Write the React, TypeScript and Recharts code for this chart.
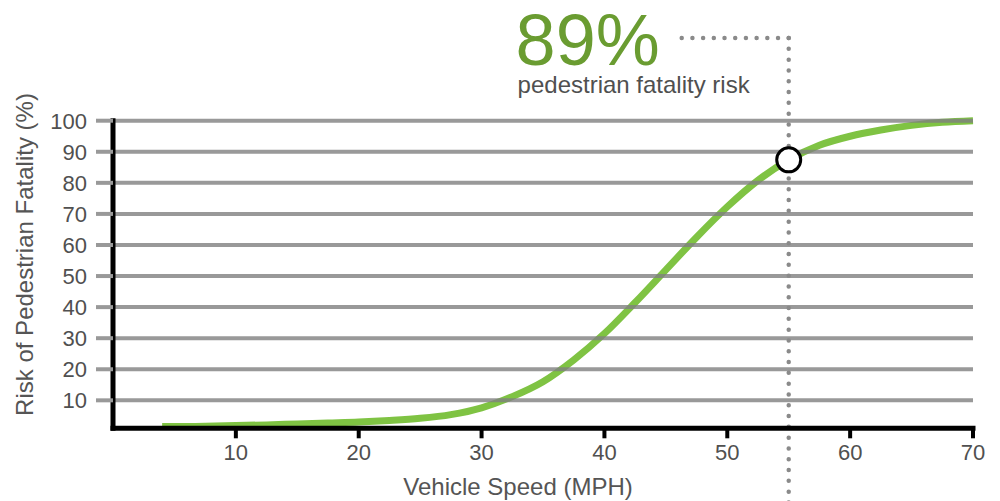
import React from 'react';
import { LineChart, Line, XAxis, YAxis, ReferenceLine, ReferenceDot } from 'recharts';

const speeds = [4, 5, 7.5, 10, 12.5, 15, 17.5, 20, 22.5, 25, 27.5, 30, 32.5, 35, 37.5, 40, 42.5, 45, 47.5, 50, 52.5, 55, 57.5, 60, 62.5, 65, 67.5, 70];
const risks = [1.6, 1.6, 1.7, 1.9, 2.1, 2.4, 2.7, 3.0, 3.5, 4.2, 5.4, 7.6, 11.2, 16.0, 23.0, 31.5, 41.5, 52, 62.5, 72.3, 80.8, 87.4, 92.1, 95.0, 97.0, 98.5, 99.5, 100];
const xTicks = [10, 20, 30, 40, 50, 60, 70];
const yTicks = [10, 20, 30, 40, 50, 60, 70, 80, 90, 100];
const highlightSpeed = 55;
const highlightText = '89%';
const highlightCaption = 'pedestrian fatality risk';
const xTitle = 'Vehicle Speed (MPH)';
const yTitle = 'Risk of Pedestrian Fatality (%)';

const data = speeds.map((s, i) => ({ speed: s, risk: risks[i] }));
const highlightRisk = risks[speeds.indexOf(highlightSpeed)];

const FONT = '"Liberation Sans", Arial, Helvetica, sans-serif';
const GREEN = '#7fc343';
const DOT_GREY = '#8a8a8a';

export default function App() {
  return (
    <div style={{ position: 'absolute', left: 0, top: 0, width: 1000, height: 501, background: '#fff', fontFamily: FONT }}>
      <LineChart width={1000} height={501} data={data} margin={{ top: 120.7, right: 27, left: 0, bottom: 12.7 }}>
        <XAxis
          dataKey="speed"
          type="number"
          domain={[0, 70]}
          ticks={xTicks}
          height={60}
          axisLine={{ stroke: '#000', strokeWidth: 5, strokeLinecap: 'square' }}
          tickLine={{ stroke: '#000', strokeWidth: 4 }}
          tickSize={10}
          tickMargin={6}
          tick={{ fill: '#505050', fontSize: 22, fontFamily: FONT }}
          label={(props: any) => {
            const vb = props.viewBox || {};
            return (
              <text x={vb.x + vb.width / 2 - 25} y={495} textAnchor="middle" fill="#555" fontSize={24} fontFamily={FONT}>
                {xTitle}
              </text>
            );
          }}
        />
        <YAxis
          type="number"
          domain={[1, 100]}
          ticks={yTicks}
          width={113}
          axisLine={{ stroke: '#000', strokeWidth: 5, strokeLinecap: 'square' }}
          tickLine={{ stroke: '#999', strokeWidth: 4 }}
          tickSize={17}
          tickMargin={9}
          tick={{ fill: '#505050', fontSize: 22, fontFamily: FONT }}
          label={(props: any) => {
            const vb = props.viewBox || {};
            const cx = 33;
            const cy = vb.y + vb.height / 2 - 20;
            return (
              <text x={cx} y={cy} transform={`rotate(-90 ${cx} ${cy})`} textAnchor="middle" fill="#555" fontSize={24} fontFamily={FONT}>
                {yTitle}
              </text>
            );
          }}
        />
        <Line type="monotone" dataKey="risk" stroke={GREEN} strokeWidth={7} dot={false} activeDot={false} isAnimationActive={false} />
        {yTicks.map((t) => (
          <ReferenceLine key={t} y={t} stroke="rgba(128,128,128,0.8)" strokeWidth={4} />
        ))}
        <ReferenceLine
          segment={[{ x: highlightSpeed, y: 126.6 }, { x: highlightSpeed, y: -25 }]}
          ifOverflow="visible"
          stroke={DOT_GREY}
          strokeWidth={4.5}
          strokeDasharray="0 10.8"
          strokeLinecap="round"
        />
        <ReferenceLine
          segment={[{ x: highlightSpeed, y: 126.6 }, { x: 46.2, y: 126.6 }]}
          ifOverflow="visible"
          stroke={DOT_GREY}
          strokeWidth={4.5}
          strokeDasharray="0 10.7"
          strokeLinecap="round"
          label={(props: any) => {
            const vb = props.viewBox || {};
            return (
              <g>
                <text x={vb.x - 165} y={vb.y + 27} fill="#6a9c31" fontSize={72} fontFamily={FONT}>
                  {highlightText}
                </text>
                <text x={vb.x - 163} y={vb.y + 55} fill="#505050" fontSize={24} fontFamily={FONT}>
                  {highlightCaption}
                </text>
              </g>
            );
          }}
        />
        <ReferenceDot x={highlightSpeed} y={highlightRisk} r={12} fill="#fff" stroke="#000" strokeWidth={3} ifOverflow="visible" />
      </LineChart>
    </div>
  );
}
